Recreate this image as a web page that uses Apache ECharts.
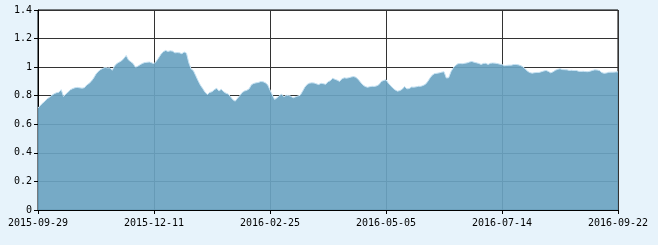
<!DOCTYPE html>
<html>
<head>
<meta charset="utf-8">
<script src="https://cdn.jsdelivr.net/npm/echarts@6/dist/echarts.min.js"></script>
<style>
html,body{margin:0;padding:0;background:#e7f3fb;}
#c{width:658px;height:245px;}
</style>
</head>
<body>
<div id="c"></div>
<script>
const tickLabels = ['2015-09-29','2015-12-11','2016-02-25','2016-05-05','2016-07-14','2016-09-22'];
const yTicks = [0,0.2,0.4,0.6,0.8,1,1.2,1.4];
const values = [
0.714,0.732,0.748,0.762,0.779,0.790,0.803,0.814,0.821,0.824,
0.842,0.795,0.812,0.826,0.842,0.850,0.856,0.858,0.855,0.853,
0.856,0.875,0.886,0.902,0.924,0.952,0.970,0.983,0.992,0.998,
0.994,0.995,0.978,1.008,1.026,1.035,1.045,1.060,1.082,1.050,
1.038,1.025,1.000,1.006,1.017,1.026,1.032,1.034,1.036,1.030,
1.024,1.042,1.065,1.090,1.108,1.117,1.110,1.114,1.112,1.100,
1.102,1.100,1.094,1.106,1.098,1.030,0.988,0.975,0.940,0.905,
0.874,0.850,0.825,0.808,0.823,0.828,0.842,0.852,0.833,0.845,
0.828,0.818,0.812,0.792,0.772,0.762,0.782,0.801,0.822,0.833,
0.838,0.848,0.877,0.886,0.890,0.893,0.899,0.898,0.890,0.876,
0.840,0.805,0.774,0.785,0.800,0.811,0.793,0.803,0.802,0.796,
0.785,0.792,0.798,0.803,0.830,0.860,0.879,0.888,0.890,0.889,
0.883,0.878,0.887,0.884,0.880,0.898,0.905,0.922,0.915,0.909,
0.900,0.918,0.925,0.923,0.926,0.931,0.934,0.929,0.915,0.895,
0.876,0.865,0.859,0.863,0.866,0.865,0.869,0.878,0.900,0.907,
0.912,0.888,0.870,0.853,0.840,0.832,0.836,0.846,0.864,0.848,
0.850,0.861,0.860,0.862,0.866,0.866,0.872,0.880,0.900,0.925,
0.945,0.955,0.957,0.960,0.965,0.968,0.924,0.926,0.968,0.995,
1.012,1.024,1.025,1.024,1.027,1.030,1.036,1.040,1.034,1.030,
1.026,1.019,1.026,1.027,1.019,1.027,1.029,1.028,1.025,1.021,
1.018,1.010,1.012,1.014,1.014,1.018,1.019,1.016,1.011,1.002,
0.988,0.971,0.962,0.958,0.961,0.963,0.963,0.968,0.973,0.977,
0.970,0.960,0.967,0.978,0.985,0.989,0.983,0.982,0.981,0.977,
0.978,0.976,0.977,0.971,0.970,0.971,0.969,0.968,0.972,0.977,
0.981,0.980,0.976,0.962,0.957,0.959,0.964,0.965,0.965,0.966,
0.967
];
const step = 50;
const categories = values.map((v, i) => (i % step === 0 ? tickLabels[i / step] : String(i)));

const chart = echarts.init(document.getElementById('c'), null, {renderer: 'canvas'});
const font = {fontFamily: 'DejaVu Sans Mono', fontSize: 10, color: '#000'};
chart.setOption({
  animation: false,
  backgroundColor: '#e7f3fb',
  grid: {left: 38, right: 40, top: 10, bottom: 35, show: true, backgroundColor: '#ffffff', borderColor: '#000', borderWidth: 1},
  xAxis: {
    type: 'category',
    data: categories,
    boundaryGap: false,
    axisLine: {lineStyle: {color: '#000', width: 1}},
    axisTick: {interval: step - 1, length: 4, lineStyle: {color: '#000'}},
    axisLabel: Object.assign({interval: step - 1, margin: 8, showMaxLabel: true}, font),
    splitLine: {show: true, interval: step - 1, lineStyle: {color: '#333', width: 1}}
  },
  yAxis: {
    type: 'value',
    min: yTicks[0],
    max: yTicks[yTicks.length - 1],
    interval: 0.2,
    axisLine: {show: true, lineStyle: {color: '#000', width: 1}},
    axisTick: {show: true, length: 4, lineStyle: {color: '#000'}},
    axisLabel: Object.assign({margin: 6}, font),
    splitLine: {show: true, lineStyle: {color: '#333', width: 1}}
  },
  series: [{
    type: 'line',
    data: values,
    symbol: 'none',
    smooth: false,
    lineStyle: {color: '#c6e2f3', width: 1},
    areaStyle: {color: 'rgb(106,163,193)', opacity: 0.92},
    z: 3
  }]
});
</script>
</body>
</html>
